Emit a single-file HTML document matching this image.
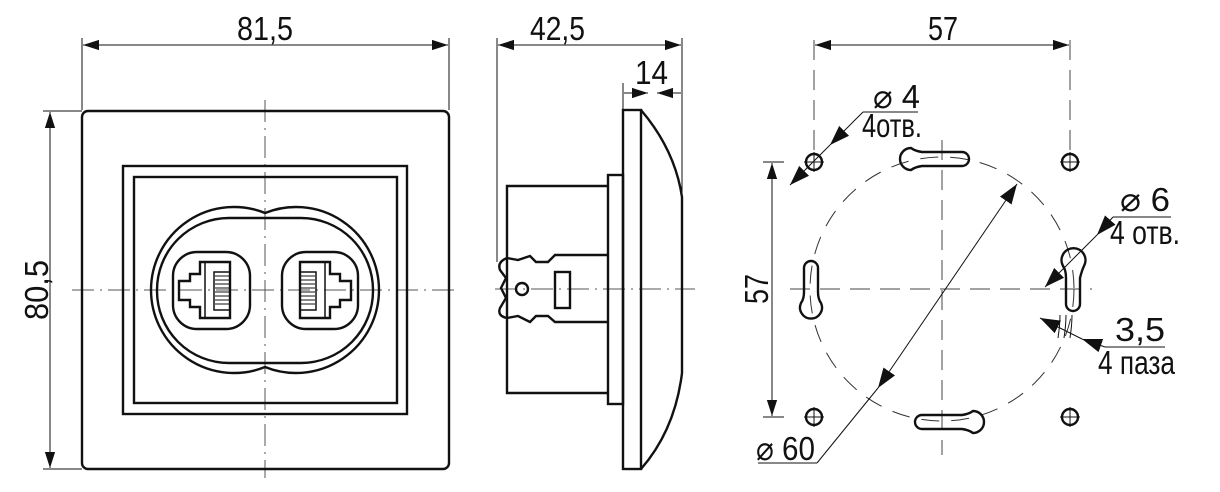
<!DOCTYPE html>
<html><head><meta charset="utf-8"><style>
html,body{margin:0;padding:0;background:#fff;width:1220px;height:492px;overflow:hidden}
svg{display:block}
text{font-family:"Liberation Sans Narrow","Liberation Sans",sans-serif;fill:#111;font-size:33px}
</style></head><body>
<svg width="1220" height="492" viewBox="0 0 1220 492" xmlns="http://www.w3.org/2000/svg">
<defs>
<marker id="a" viewBox="0 0 10 10" refX="10" refY="5" markerWidth="16" markerHeight="16" markerUnits="userSpaceOnUse" orient="auto-start-reverse"><path d="M0,1.8 L10,5 L0,8.2Z" fill="#111"/></marker>
<marker id="b" viewBox="0 0 10 10" refX="10" refY="5" markerWidth="20" markerHeight="20" markerUnits="userSpaceOnUse" orient="auto-start-reverse"><path d="M0,1.5 L10,5 L0,8.5Z" fill="#111"/></marker>
</defs>
<g fill="none" stroke="#111" stroke-width="1">
<line x1="82" y1="38" x2="82" y2="110"/><line x1="449" y1="38" x2="449" y2="110"/>
<line x1="83" y1="45" x2="448" y2="45" marker-start="url(#a)" marker-end="url(#a)"/>
<line x1="43" y1="111" x2="82" y2="111"/><line x1="43" y1="469" x2="82" y2="469"/>
<line x1="50" y1="112" x2="50" y2="468" marker-start="url(#a)" marker-end="url(#a)"/>
<g stroke-dasharray="22,6,2,6" stroke="#555">
<line x1="72" y1="290" x2="460" y2="290"/><line x1="265" y1="100" x2="265" y2="478"/>
</g>
</g>
<g fill="none" stroke="#111" stroke-width="2.4">
<rect x="82" y="111" width="367" height="358" rx="6"/>
<rect x="123" y="166" width="284" height="248"/>
<rect x="134" y="177" width="263" height="226"/>
<path d="M265,213 A83,83 0 1,0 265,367 A83,83 0 1,0 265,213Z"/>
<rect x="157" y="218" width="216" height="145" rx="72"/>
<rect x="173" y="252" width="77" height="77" rx="24"/>
<rect x="282" y="252" width="76" height="77" rx="24"/>
<path d="M205,262 H230 V318 H200 V307 H190 V300 H179 V281 H190 V274 H200 V262Z"/>
<path d="M325,262 H300 V318 H330 V307 H340 V300 H351 V281 H340 V274 H330 V262Z"/>
</g>
<g fill="none" stroke="#111" stroke-width="1.5">
<line x1="205" y1="262" x2="205" y2="318"/><rect x="214" y="272" width="16" height="38"/>
<line x1="325" y1="262" x2="325" y2="318"/><rect x="300" y="272" width="16" height="38"/>
</g>
<g stroke="#111" stroke-width="1">
<path d="M215,276h14M215,280h14M215,284h14M215,288h14M215,292h14M215,296h14M215,300h14M215,304h14"/>
<path d="M301,276h14M301,280h14M301,284h14M301,288h14M301,292h14M301,296h14M301,300h14M301,304h14"/>
</g>
<text x="237" y="40" textLength="56" lengthAdjust="spacingAndGlyphs">81,5</text>
<text transform="translate(48,290) rotate(-90)" x="-30" y="0" textLength="60" lengthAdjust="spacingAndGlyphs">80,5</text>

<g fill="none" stroke="#111" stroke-width="1">
<line x1="497" y1="38" x2="497" y2="262"/><line x1="682" y1="38" x2="682" y2="197"/>
<line x1="498" y1="45" x2="681" y2="45" marker-start="url(#a)" marker-end="url(#a)"/>
<line x1="623" y1="83" x2="623" y2="110"/>
<line x1="624" y1="93" x2="648" y2="93" marker-end="url(#a)"/><line x1="681" y1="93" x2="657" y2="93" marker-end="url(#a)"/>
<g stroke-dasharray="22,6,2,6" stroke="#555"><line x1="495" y1="289" x2="695" y2="289"/></g>
</g>
<g fill="none" stroke="#111" stroke-width="2.4">
<rect x="623" y="110" width="18" height="359"/>
<path d="M641,110 Q675,150 682,197 V373 Q675,430 641,469"/>
<rect x="608" y="175" width="15" height="229"/>
<path d="M608,186 H507 V393 H608"/>
<path d="M608,255 H555 L548,262 H536 L530,256 L518,260 L507,258 Q497,262 500,270 L506,278 L501,288 L506,298 L500,308 Q497,316 507,318 L518,316 L530,322 L536,316 H548 L555,322 H608"/>
<circle cx="522" cy="289" r="6"/>
<rect x="555" y="272" width="15" height="36"/>
</g>
<text x="530" y="40" textLength="55" lengthAdjust="spacingAndGlyphs">42,5</text>
<text x="635" y="84" textLength="33" lengthAdjust="spacingAndGlyphs">14</text>

<g fill="none" stroke="#111" stroke-width="1">
<g stroke-dasharray="20,10" stroke="#444">
<line x1="814" y1="40" x2="814" y2="150"/><line x1="1070" y1="40" x2="1070" y2="150"/>
<line x1="790" y1="289" x2="1092" y2="289"/><line x1="942" y1="140" x2="942" y2="455"/>
</g>
<circle cx="942" cy="289" r="132" stroke-dasharray="18,12" stroke="#333"/>
<line x1="815" y1="45" x2="1069" y2="45" marker-start="url(#a)" marker-end="url(#a)"/>
<line x1="763" y1="162" x2="784" y2="162"/><line x1="763" y1="417" x2="784" y2="417"/>
<line x1="772" y1="163" x2="772" y2="416" marker-start="url(#a)" marker-end="url(#a)"/>
<path d="M804,162h20M814,152v20M1060,162h20M1070,152v20M804,417h20M814,407v20M1060,417h20M1070,407v20"/>
<line x1="1017" y1="184" x2="878" y2="388" marker-start="url(#b)" marker-end="url(#b)"/>
<line x1="878" y1="388" x2="817" y2="463"/><line x1="817" y1="463" x2="758" y2="463"/>
<line x1="918" y1="112" x2="863" y2="112"/><line x1="863" y1="112" x2="830" y2="145" marker-end="url(#b)"/>
<line x1="830" y1="145" x2="790" y2="185" marker-end="url(#b)"/>
<line x1="1171" y1="217" x2="1113" y2="217"/><line x1="1113" y1="217" x2="1097" y2="235" marker-end="url(#b)"/>
<line x1="1097" y1="235" x2="1045" y2="287" marker-end="url(#b)"/>
<line x1="1165" y1="347" x2="1105" y2="347"/><line x1="1105" y1="347" x2="1082" y2="339" marker-end="url(#b)"/>
<line x1="1082" y1="339" x2="1040" y2="318" marker-end="url(#b)"/>
<path d="M1060,315 Q1060,325 1058,338 M1066,315 Q1066,325 1064,338 M1072,315 Q1072,325 1070,338"/>
</g>
<g fill="none" stroke="#111" stroke-width="2.4">
<circle cx="814" cy="162" r="8"/><circle cx="1070" cy="162" r="8"/><circle cx="814" cy="417" r="8"/><circle cx="1070" cy="417" r="8"/>
<path d="M911,148 Q915,151 922,152 H962 A7,7 0 0 1 962,166 H922 Q915,167 911,170 A11,11 0 1 1 911,148Z"/>
<path d="M973,411 Q969,414 962,415 H922 A7,7 0 0 0 922,429 H962 Q969,430 973,433 A11,11 0 1 0 973,411Z"/>
<path d="M801,303 Q804,299 804,292 V268 A7,7 0 0 1 818,268 V292 Q818,299 821,303 A11,11 0 1 1 801,303Z"/>
<path d="M1063,266 Q1066,270 1066,278 V304 A7,7 0 0 0 1080,304 V278 Q1082,270 1084,266 A12,12 0 1 0 1063,266Z"/>
</g>
<text x="928" y="40" textLength="30" lengthAdjust="spacingAndGlyphs">57</text>
<text transform="translate(768,289) rotate(-90)" x="-15" y="0" textLength="30" lengthAdjust="spacingAndGlyphs">57</text>
<text x="873" y="108" textLength="47" lengthAdjust="spacingAndGlyphs">⌀ 4</text>
<text x="862" y="137" textLength="60" lengthAdjust="spacingAndGlyphs">4отв.</text>
<text x="1120" y="211" textLength="50" lengthAdjust="spacingAndGlyphs">⌀ 6</text>
<text x="1110" y="244" textLength="70" lengthAdjust="spacingAndGlyphs">4 отв.</text>
<text x="1115" y="341" textLength="50" lengthAdjust="spacingAndGlyphs">3,5</text>
<text x="1098" y="374" textLength="77" lengthAdjust="spacingAndGlyphs">4 паза</text>
<text x="756" y="460" textLength="59" lengthAdjust="spacingAndGlyphs">⌀ 60</text>
</svg>
</body></html>
